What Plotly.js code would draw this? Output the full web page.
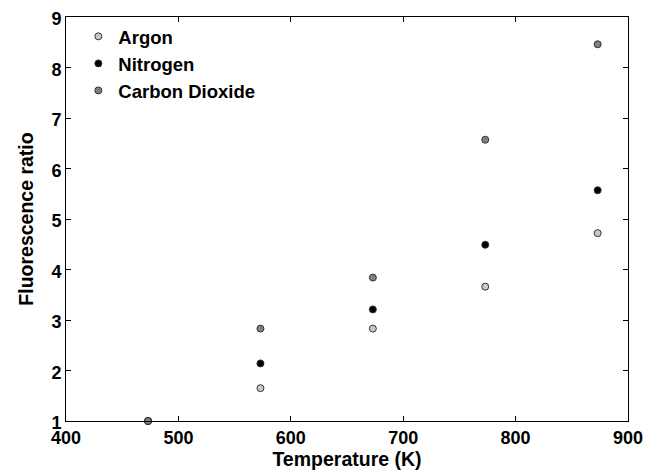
<!DOCTYPE html>
<html>
<head>
<meta charset="utf-8">
<script src="https://cdn.plot.ly/plotly-3.0.1.min.js"></script>
<style>html,body{margin:0;padding:0;background:#fff;}#chart{width:657px;height:473px;}</style>
</head>
<body>
<div id="chart"></div>
<script>
const temperature = [473, 573, 673, 773, 873];
const argon = [1.0, 1.65, 2.83, 3.66, 4.72];
const nitrogen = [1.0, 2.14, 3.21, 4.49, 5.57];
const carbonDioxide = [1.0, 2.83, 3.84, 6.57, 8.46];
const seriesNames = ["Argon", "Nitrogen", "Carbon Dioxide"];
const seriesColors = ["#c8c8c8", "#000000", "#808080"];
const seriesValues = [argon, nitrogen, carbonDioxide];

const traces = seriesValues.map((vals, i) => ({
  x: temperature,
  y: vals,
  name: seriesNames[i],
  type: "scatter",
  mode: "markers",
  cliponaxis: false,
  marker: {size: 7, color: seriesColors[i], line: {color: "#333333", width: 1}}
}));

const font = {family: "Liberation Sans, Arial, sans-serif", color: "#000", weight: "bold"};
const layout = {
  width: 657, height: 473,
  margin: {l: 66, r: 29, t: 17, b: 52},
  paper_bgcolor: "#fff", plot_bgcolor: "#fff",
  showlegend: true,
  legend: {x: 0.022, y: 0.998, xanchor: "left", yanchor: "top", bgcolor: "rgba(0,0,0,0)",
    font: Object.assign({}, font, {size: 18.5}), tracegroupgap: 0},
  xaxis: {range: [400, 900], dtick: 100, tick0: 400, ticks: "inside", ticklen: 5, tickcolor: "#000",
    showline: true, linecolor: "#000", linewidth: 1, mirror: "ticks", showgrid: false, zeroline: false,
    tickfont: Object.assign({}, font, {size: 18}),
    title: {text: "Temperature (K)", font: Object.assign({}, font, {size: 19.5}), standoff: 2}},
  yaxis: {range: [1, 9], dtick: 1, tick0: 1, ticks: "inside", ticklen: 5, tickcolor: "#000",
    showline: true, linecolor: "#000", linewidth: 1, mirror: "ticks", showgrid: false, zeroline: false,
    ticklabelshift: 2,
    tickfont: Object.assign({}, font, {size: 18}),
    title: {text: "Fluorescence ratio", font: Object.assign({}, font, {size: 19.5}), standoff: 12}}
};
Plotly.newPlot("chart", traces, layout, {displayModeBar: false, staticPlot: true});
</script>
</body>
</html>
